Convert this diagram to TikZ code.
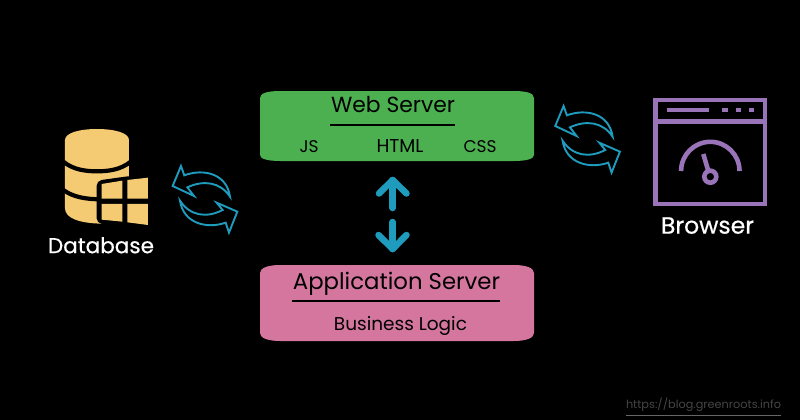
\documentclass[tikz,border=0pt]{standalone}
\usepackage{fontspec}
\setmainfont{Poppins}
\newfontface\medfont{Poppins}[FakeBold=0.6]
\definecolor{gold}{HTML}{F4CA72}
\definecolor{teal2}{HTML}{1F9BBE}
\definecolor{purp}{HTML}{9A74B9}
\definecolor{grn}{HTML}{4CAF50}
\definecolor{pnk}{HTML}{D5769F}
\newcommand{\fitw}[2]{\resizebox{#1pt}{!}{\strut #2}}
\tikzset{
  lbl/.style={inner sep=0pt,text=black},
  wlbl/.style={inner sep=0pt,text=white},
  rule/.style={draw=black,line width=1.6pt},
  updown/.style={draw=teal2,line width=6.5pt,line cap=round,line join=round},
  swap/.style={draw=teal2,line width=1.9pt,fill=black,line join=miter},
  brw/.style={draw=purp,line width=4.6pt},
  gap/.style={draw=black,line width=4.2pt},
  pane/.style={fill=gold,draw=none},
  zm/.style={x=0.3333pt,y=-0.3333pt,shift={(30pt,-110pt)}},
}
\begin{document}
\begin{tikzpicture}[x=1pt,y=-1pt]
\useasboundingbox (0,0) rectangle (800,420);
\fill[black] (0,0) rectangle (800,420);
% web server
\fill[grn] (260,98) .. controls (260,93) and (268,91) .. (280,91) -- (514,91) .. controls (526,91) and (534,93) .. (534,98)
  -- (534,155) .. controls (534,159) and (526,161) .. (514,161) -- (280,161) .. controls (268,161) and (260,159) .. (260,155) -- cycle;
\node[lbl] (web) at (393,107) {\fitw{124}{Web Server}};
\coordinate (webA) at (330,124.7);
\coordinate (webB) at (455,124.7);
\draw[rule] (webA) -- (webB);
\node[lbl] (js) at (309,148.5) {\fitw{19}{JS}};
\node[lbl] (html) at (400,148.5) {\fitw{47}{HTML}};
\node[lbl] (css) at (480,148.5) {\fitw{33}{CSS}};
% application server
\fill[pnk] (260,273) .. controls (260,268) and (268,265) .. (280,265) -- (514,265) .. controls (526,265) and (534,268) .. (534,273)
  -- (534,333) .. controls (534,338) and (526,341) .. (514,341) -- (280,341) .. controls (268,341) and (260,338) .. (260,333) -- cycle;
\node[lbl] (app) at (396.5,284) {\fitw{207}{Application Server}};
\coordinate (appA) at (292,300.7);
\coordinate (appB) at (500,300.7);
\draw[rule] (appA) -- (appB);
\node[lbl] (biz) at (400.5,326.5) {\fitw{133}{Business Logic}};
% vertical arrows
\coordinate (upT) at (392.7,180);
\coordinate (upB) at (392.7,208);
\coordinate (dnT) at (392.7,222);
\coordinate (dnB) at (392.7,249);
\draw[updown] (upB) -- (upT);
\draw[updown] (379,193.5) -- (upT) -- (406.5,193.5);
\draw[updown] (dnT) -- (dnB);
\draw[updown] (378.5,235) -- (dnB) -- (406.5,235);
% swap arrows
\foreach \dx/\dy in {0/0,382.6/-60}{
\begin{scope}[shift={(\dx pt,-\dy pt)}]
\begin{scope}[zm]
\draw[swap] (428,228) -- (453,168) -- (463,196) .. controls (520,175) and (590,190) .. (600,260)
  .. controls (570,215) and (520,210) .. (472,232) -- (492,258) -- cycle;
\draw[swap] (622,305) -- (597,368) -- (587,338) .. controls (530,358) and (460,340) .. (450,272)
  .. controls (480,318) and (530,325) .. (578,300) -- (560,278) -- cycle;
\end{scope}
\end{scope}
}
% database
\begin{scope}[zm]
\fill[gold] (105,90) .. controls (105,68) and (150,57) .. (201,57) .. controls (252,57) and (297,68) .. (297,90)
  -- (297,300) .. controls (297,325) and (255,340) .. (215,341) .. controls (150,340) and (105,325) .. (105,295) -- cycle;
\draw[gap] (100,155) .. controls (130,180) and (170,184) .. (201,184) .. controls (232,184) and (272,180) .. (302,155);
\draw[gap] (100,240) .. controls (130,262) and (170,268) .. (215,268);
\fill[black,rounded corners=5pt] (200,212) -- (300,198) -- (360,198) -- (360,350) -- (300,350) -- (200,340) -- cycle;
\fill[pane] (215,222) -- (277,212) -- (277,266) -- (215,266) -- cycle;
\fill[pane] (292,210) -- (354,203) -- (354,266) -- (292,266) -- cycle;
\fill[pane] (215,282) -- (277,282) -- (277,335) -- (215,329) -- cycle;
\fill[pane] (292,282) -- (354,282) -- (354,345) -- (292,337) -- cycle;
\end{scope}
\node[wlbl] (db) at (101,248) {\fitw{106}{\medfont Database}};
% browser
\draw[brw] (655.7,100) rectangle (765,204);
\draw[brw] (655.7,121.5) -- (765,121.5);
\fill[purp] (666.7,107.7) rectangle (708.7,112.3);
\fill[purp] (722.3,107.7) rectangle (727.7,112.3);
\fill[purp] (735.7,107.7) rectangle (741,112.3);
\fill[purp] (749,107.7) rectangle (754.3,112.3);
\draw[brw] (681.1,171) arc[start angle=180,end angle=360,radius=29.2];
\draw[brw] (710.3,176.7) circle[radius=6];
\draw[brw] (703.3,154) -- (708.3,171);
\node[wlbl] (br) at (707.5,228) {\fitw{93}{\medfont Browser}};
% footer
\node[inner sep=0pt,text=white!27!black] (url) at (703.5,405.5) {\fitw{155}{https://blog.greenroots.info}};
\coordinate (urlA) at (626,415);
\coordinate (urlB) at (781,415);
\draw[white!40!black,line width=0.8pt] (urlA) -- (urlB);
\end{tikzpicture}
\end{document}
